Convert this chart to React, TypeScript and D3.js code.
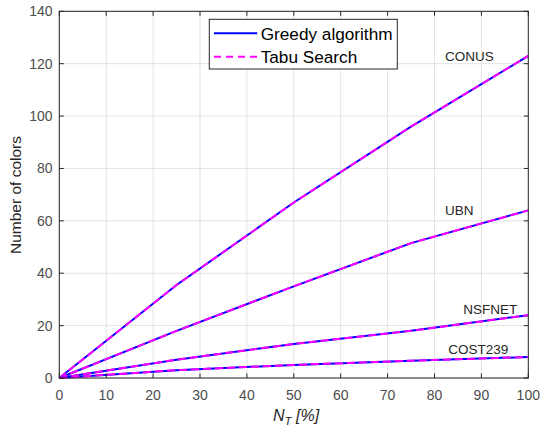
import React from "react";
import * as d3 from "d3";

const nt = [0, 25, 50, 75, 100];
const conus = [0, 35.5, 67, 96, 123];
const ubn = [0, 18, 35, 51.5, 64];
const nsfnet = [0, 7, 13, 18, 24];
const cost239 = [0, 3, 5, 6.6, 8];
const seriesNames = ["CONUS", "UBN", "NSFNET", "COST239"];
const seriesValues = [conus, ubn, nsfnet, cost239];
const xTicks = [0, 10, 20, 30, 40, 50, 60, 70, 80, 90, 100];
const yTicks = [0, 20, 40, 60, 80, 100, 120, 140];
const legendLabels = ["Greedy algorithm", "Tabu Search"];

const W = 540, H = 427;
const L = 59.3, R = 528.3, T = 11.3, B = 378;
const FONT = "Liberation Sans, Arial, Helvetica, sans-serif";

export default function App() {
  const x = d3.scaleLinear().domain([0, 100]).range([L, R]);
  const y = d3.scaleLinear().domain([0, 140]).range([B, T]);
  const line = d3.line<number>().x((_, i) => x(nt[i])).y((d) => y(d));
  const labelPos = [
    { x: 445, y: 56 },
    { x: 445, y: 209.5 },
    { x: 463.3, y: 308.5 },
    { x: 448.3, y: 349 },
  ];
  const tick = 4.5;
  return (
    <svg width={W} height={H} style={{ position: "absolute", left: 0, top: 0, background: "#fff" }} fontFamily={FONT}>
      <rect x={0} y={0} width={W} height={H} fill="#fff" />
      {xTicks.map((t) => (
        <line key={"gx" + t} x1={x(t)} x2={x(t)} y1={T} y2={B} stroke="#dcdcdc" strokeWidth={0.8} />
      ))}
      {yTicks.map((t) => (
        <line key={"gy" + t} x1={L} x2={R} y1={y(t)} y2={y(t)} stroke="#dcdcdc" strokeWidth={0.8} />
      ))}
      {seriesValues.map((s, i) => (
        <g key={"s" + i}>
          <path d={line(s) || ""} fill="none" stroke="#0000ff" strokeWidth={2} />
          <path d={line(s) || ""} fill="none" stroke="#ff00ff" strokeWidth={2} strokeDasharray="8 4" />
        </g>
      ))}
      <rect x={L} y={T} width={R - L} height={B - T} fill="none" stroke="#262626" strokeWidth={1} />
      {xTicks.map((t) => (
        <g key={"tx" + t}>
          <line x1={x(t)} x2={x(t)} y1={B} y2={B - tick} stroke="#262626" />
          <line x1={x(t)} x2={x(t)} y1={T} y2={T + tick} stroke="#262626" />
          <text x={x(t)} y={400} textAnchor="middle" fontSize={14} fill="#4d4d4d">{t}</text>
        </g>
      ))}
      {yTicks.map((t) => (
        <g key={"ty" + t}>
          <line x1={L} x2={L + tick} y1={y(t)} y2={y(t)} stroke="#262626" />
          <line x1={R} x2={R - tick} y1={y(t)} y2={y(t)} stroke="#262626" />
          <text x={52.5} y={y(t) + 5} textAnchor="end" fontSize={14} fill="#4d4d4d">{t}</text>
        </g>
      ))}
      {seriesNames.map((n, i) => (
        <text key={"n" + n} x={labelPos[i].x} y={labelPos[i].y + 5} fontSize={13.5} fill="#262626">{n}</text>
      ))}
      <text x={296} y={421} textAnchor="middle" fontSize={16} fill="#262626" fontStyle="italic">
        N<tspan fontSize={11.5} dy={4}>T</tspan><tspan dy={-4}> [%]</tspan>
      </text>
      <text transform={`translate(20.5,195) rotate(-90)`} textAnchor="middle" fontSize={15.5} fill="#262626">Number of colors</text>
      <rect x={209.3} y={19.3} width={188} height={49.7} fill="#fff" stroke="#262626" strokeWidth={1} />
      <line x1={214} x2={257.3} y1={33.3} y2={33.3} stroke="#0000ff" strokeWidth={2} />
      <line x1={214} x2={257.3} y1={56.7} y2={56.7} stroke="#ff00ff" strokeWidth={2} strokeDasharray="7 5" />
      <text x={260.7} y={39.5} fontSize={17.2} fill="#000">{legendLabels[0]}</text>
      <text x={260.7} y={63} fontSize={17.2} fill="#000">{legendLabels[1]}</text>
    </svg>
  );
}
